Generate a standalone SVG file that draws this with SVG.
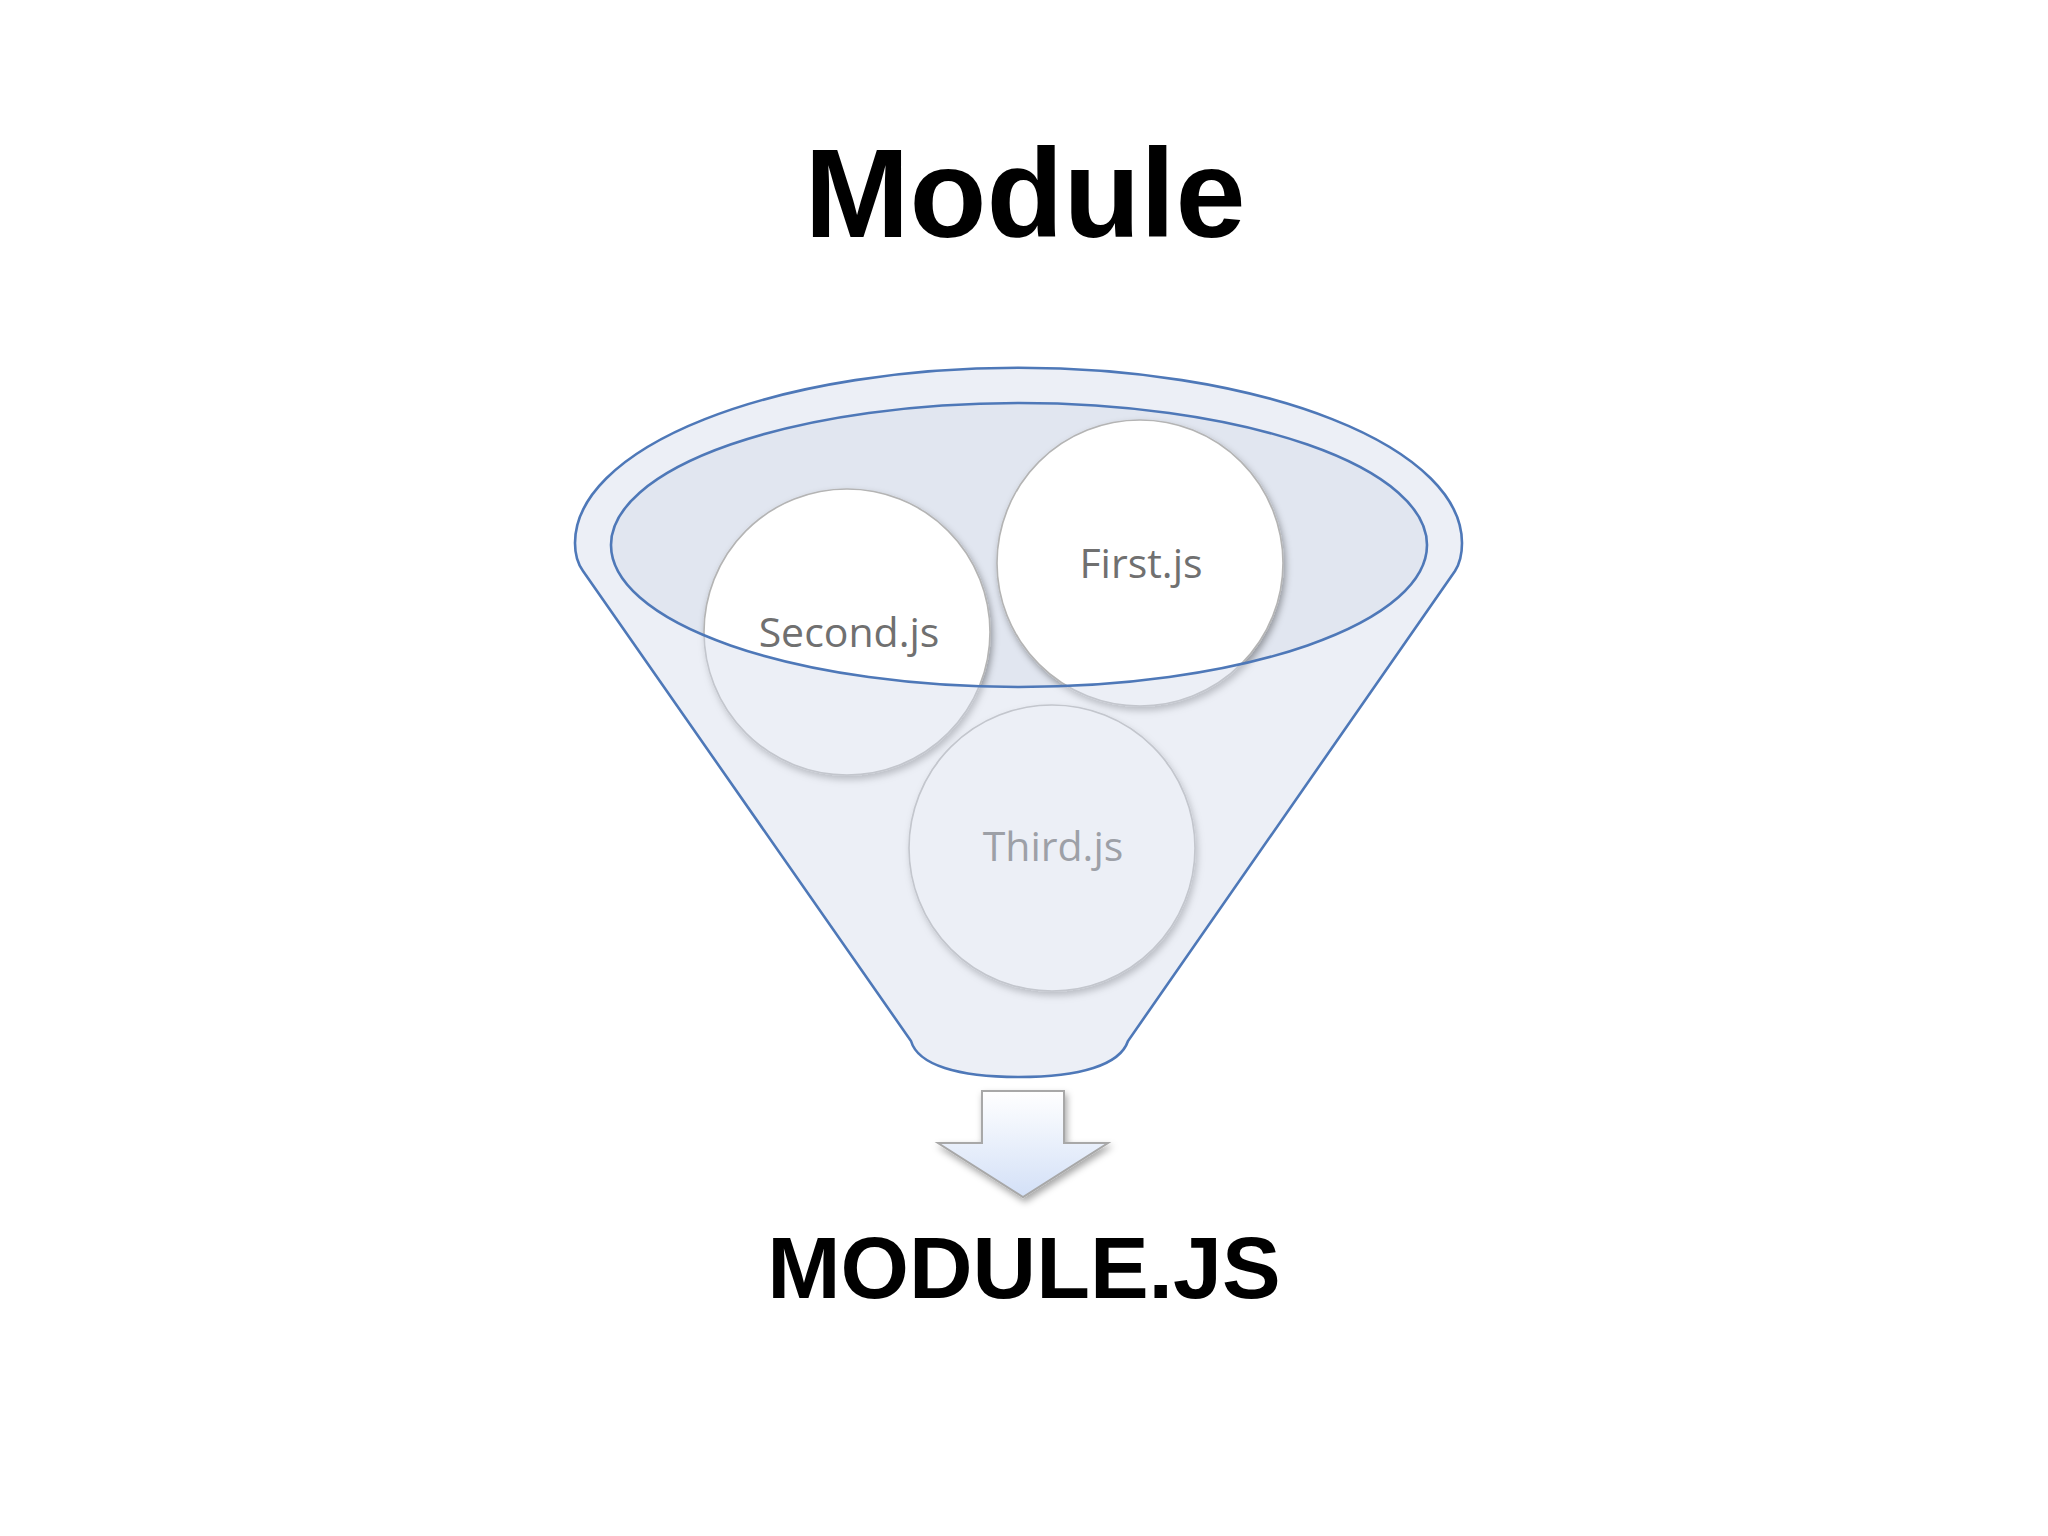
<svg xmlns="http://www.w3.org/2000/svg" width="2048" height="1536" viewBox="0 0 2048 1536">
  <defs>
    <style>
      .title { font-family: "Liberation Sans", Arial, sans-serif; font-weight: bold; fill: #000; text-anchor: middle; }
      .ball { fill: #ffffff; stroke: #b4b4b4; stroke-width: 1.6; filter: url(#shadow); }
      .lbl { font-family: "Open Sans", "Noto Sans", sans-serif; font-size: 41px; fill: #707070; text-anchor: middle; }
      .outline { fill: none; stroke: #4e78b8; stroke-width: 2.6; }
    </style>
    <filter id="shadow" x="-20%" y="-20%" width="140%" height="140%">
      <feDropShadow dx="2" dy="4" stdDeviation="3.5" flood-color="#000" flood-opacity="0.35"/>
    </filter>
    <linearGradient id="arrowGrad" x1="0" y1="0" x2="0" y2="1">
      <stop offset="0" stop-color="#ffffff"/>
      <stop offset="1" stop-color="#d3e0f7"/>
    </linearGradient>
  </defs>
  <rect width="2048" height="1536" fill="#ffffff"/>

  <g id="title">
    <text class="title" x="1025" y="237" font-size="126">Module</text>
  </g>

  <g id="funnel-back">
    <path d="M583 571 Q575 560 575 543 A443 175 0 0 1 1462 543 Q1462 560 1455 571 L1128 1041 C1120 1065 1080 1077 1019 1077 C958 1077 918 1065 911 1041 Z" fill="#ffffff"/>
    <ellipse cx="1019" cy="545" rx="408" ry="142" fill="#e1e6f0"/>
  </g>

  <g id="node-second">
    <circle class="ball" cx="847" cy="632" r="143"/>
    <text class="lbl" x="849" y="647">Second.js</text>
  </g>
  <g id="node-first">
    <circle class="ball" cx="1140" cy="563" r="143"/>
    <text class="lbl" x="1141" y="578">First.js</text>
  </g>
  <g id="node-third">
    <circle class="ball" cx="1052" cy="848" r="143"/>
    <text class="lbl" x="1053" y="861">Third.js</text>
  </g>

  <g id="funnel-front">
    <path fill-rule="evenodd" fill="#d5dcec" fill-opacity="0.45"
      d="M583 571 Q575 560 575 543 A443 175 0 0 1 1462 543 Q1462 560 1455 571 L1128 1041 C1120 1065 1080 1077 1019 1077 C958 1077 918 1065 911 1041 Z M611 545 A408 142 0 1 0 1427 545 A408 142 0 1 0 611 545 Z"/>
    <path class="outline" d="M583 571 Q575 560 575 543 A443 175 0 0 1 1462 543 Q1462 560 1455 571 L1128 1041 C1120 1065 1080 1077 1019 1077 C958 1077 918 1065 911 1041 Z"/>
    <ellipse class="outline" cx="1019" cy="545" rx="408" ry="142"/>
  </g>

  <g id="connectors">
    <path d="M982 1091 H1064 V1143 H1108 L1023 1197 L938 1143 H982 Z" fill="url(#arrowGrad)" stroke="#a8a8a8" stroke-width="2" filter="url(#shadow)"/>
  </g>

  <g id="result">
    <text class="title" x="1024" y="1298" font-size="88">MODULE.JS</text>
  </g>
</svg>
